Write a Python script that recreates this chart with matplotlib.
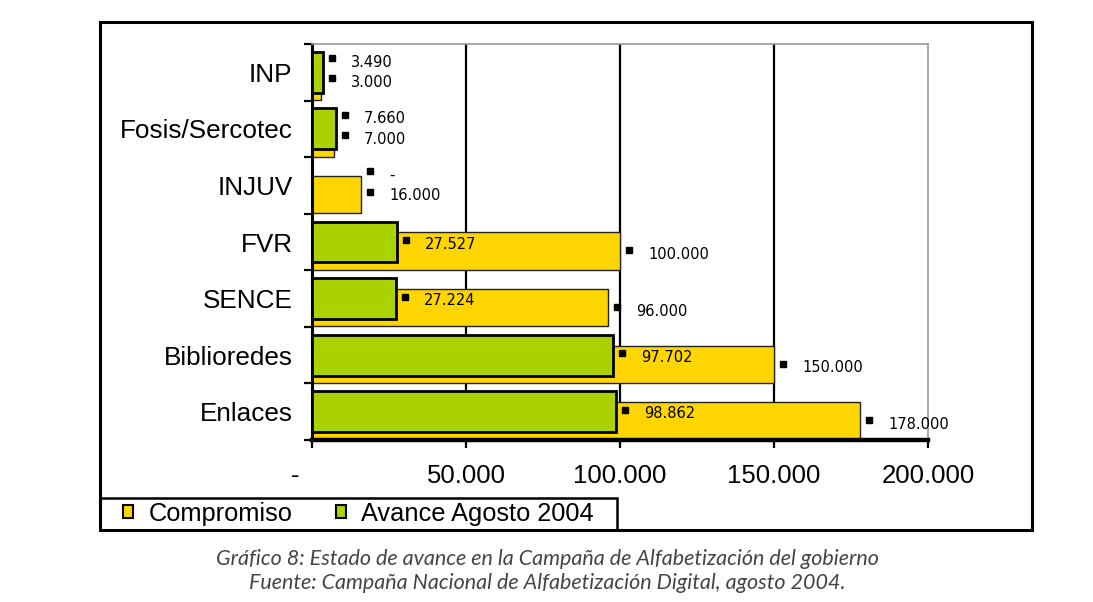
import numpy as np
import matplotlib
matplotlib.use("Agg")
import matplotlib.pyplot as plt
from matplotlib.patches import Rectangle, Patch
from matplotlib.transforms import offset_copy, ScaledTranslation

# data
categories = ["INP", "Fosis/Sercotec", "INJUV", "FVR", "SENCE", "Biblioredes", "Enlaces"]
compromiso = [3000, 7000, 16000, 100000, 96000, 150000, 178000]
avance = [3490, 7660, 0, 27527, 27224, 97702, 98862]
x_ticks = [0, 50000, 100000, 150000, 200000]
x_tick_labels = ["-", "50.000", "100.000", "150.000", "200.000"]
series_names = ["Compromiso", "Avance Agosto 2004"]
caption = ["Gráfico 8: Estado de avance en la Campaña de Alfabetización del gobierno",
           "Fuente: Campaña Nacional de Alfabetización Digital, agosto 2004."]

YELLOW = "#FFD500"
GREEN = "#AAD200"
W, H = 1093, 602


def fmt(v):
    if v == 0:
        return "-"
    return f"{v:,}".replace(",", ".")


plt.rcParams["font.family"] = ["Liberation Sans", "DejaVu Sans"]

fig = plt.figure(figsize=(W / 100, H / 100), dpi=100)
ax = fig.add_axes([312 / W, 1 - 440 / H, 616 / W, 396 / H])

y = np.arange(len(categories))

# background gridlines (black) at inner ticks
for t in x_ticks[1:-1]:
    ax.axvline(t, color="black", lw=1.6, zorder=0)

ax.barh(y + 0.16, compromiso, height=0.66, color=YELLOW,
        edgecolor="#222222", linewidth=1.0, zorder=2)
ax.barh(y, avance, height=0.72, color=GREEN,
        edgecolor="black", linewidth=2.0, zorder=3)

# value labels with small black square markers
mk_tr = offset_copy(ax.transData, fig=fig, x=9, y=4, units="dots")
tx_tr = offset_copy(ax.transData, fig=fig, x=28, y=0, units="dots")
for i, (c, a) in enumerate(zip(compromiso, avance)):
    if abs(c - a) < 20000:
        xa = xc = max(c, a)
        ya, yc = i - 0.18, i + 0.18
    else:
        xa, xc = a, c
        ya, yc = i + 0.04, i + 0.22
    for xv, yv, v in [(xa, ya, a), (xc, yc, c)]:
        ax.plot([xv], [yv], marker="s", ms=4.4, color="black",
                transform=mk_tr, zorder=5, clip_on=False)
        ax.text(xv, yv, fmt(v), transform=tx_tr, fontsize=10.5,
                family="DejaVu Sans", va="center", ha="left", zorder=5)

ax.set_xlim(0, 200000)
ax.set_ylim(len(categories) - 0.5, -0.5)

ax.set_xticks(x_ticks)
ax.set_xticklabels(x_tick_labels, fontsize=18.5)
ax.tick_params(axis="x", length=6, width=1.6, pad=11, color="black")
lbl0 = ax.get_xticklabels()[0]
lbl0.set_transform(lbl0.get_transform() + ScaledTranslation(-0.17, 0, fig.dpi_scale_trans))

ax.set_yticks(y)
ax.set_yticklabels(categories, fontsize=18.8)
ax.set_yticks(np.arange(-0.5, len(categories)), minor=True)
ax.tick_params(axis="y", which="major", length=0, pad=14)
ax.tick_params(axis="y", which="minor", length=6, width=1.6, color="black")

ax.spines["left"].set_linewidth(2.2)
ax.spines["bottom"].set_linewidth(3.2)
for s in ["top", "right"]:
    ax.spines[s].set_color("#999999")
    ax.spines[s].set_linewidth(1.2)

# outer frame and legend box
fig.patches.append(Rectangle((100 / W, 1 - 530 / H), 932 / W, 508 / H,
                             transform=fig.transFigure, fill=False,
                             edgecolor="black", linewidth=2.2))
fig.patches.append(Rectangle((100 / W, 1 - 530 / H), 517 / W, 32 / H,
                             transform=fig.transFigure, fill=False,
                             edgecolor="black", linewidth=1.8))

handles = [Patch(facecolor=YELLOW, edgecolor="black", linewidth=1.5),
           Patch(facecolor=GREEN, edgecolor="black", linewidth=1.5)]
fig.legend(handles, series_names, loc="center left",
           bbox_to_anchor=(123 / W, 1 - 514 / H), ncol=2, fontsize=18.3,
           frameon=False, borderaxespad=0, borderpad=0,
           handlelength=0.4, handleheight=0.4, handletextpad=0.6,
           columnspacing=1.7)

for k, line in enumerate(caption):
    fig.text(547 / W, 1 - (559 + 24 * k) / H, line, ha="center", va="center",
             fontsize=15.5, style="italic", family="Lato", color="#444444")

fig.savefig("out.png", dpi=100)
